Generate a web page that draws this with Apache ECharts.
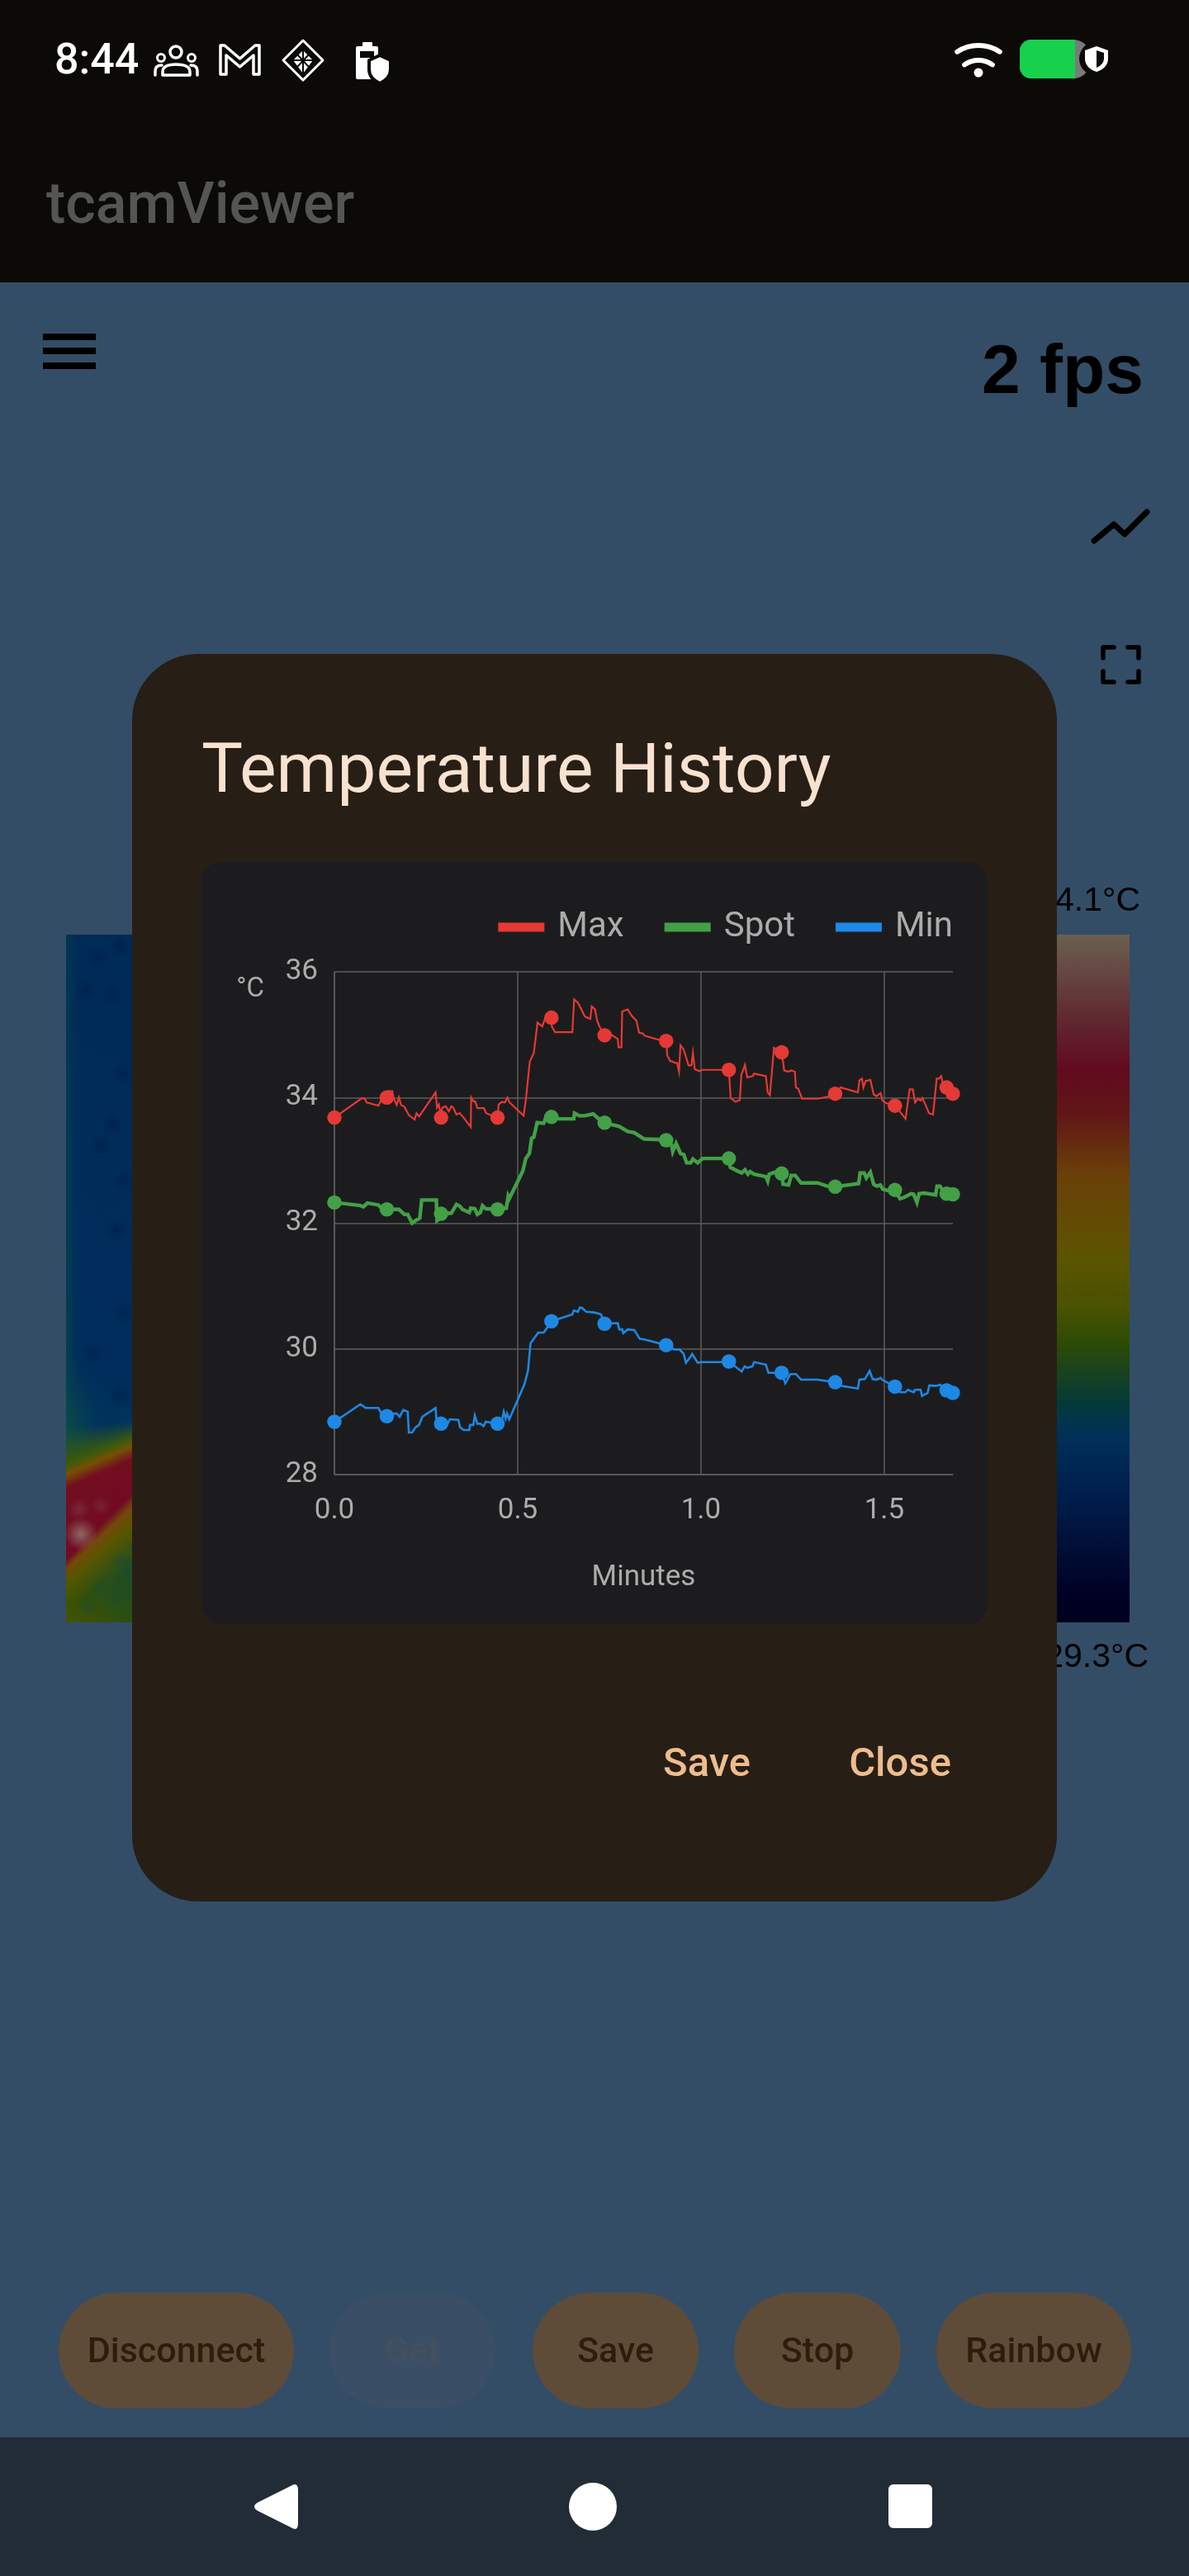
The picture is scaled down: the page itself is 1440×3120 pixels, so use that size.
<!DOCTYPE html>
<html><head><meta charset="utf-8">
<style>html,body{margin:0;padding:0;background:#334d66}#c{width:1440px;height:3120px}</style>
<script src="https://cdn.jsdelivr.net/npm/echarts@6/dist/echarts.min.js"></script>
</head><body><div id="c"></div>
<script>
// ---------- data ----------
const seriesNames = ['Max','Spot','Min'];
const yTicks = {min:28,max:36,step:2};
const xTicks = {min:0,max:1.687,step:0.5};

const maxTime = [0,.075,.083,.088,.120,.130,.143,.146,.158,.161,.170,.176,.182,.191,.203,.219,.224,.231,.276,.280,.285,.289,.295,.304,.312,.319,.324,.333,.342,.351,.372,.373,.379,.384,.390,.408,.414,.426,.445,.448,.457,.465,.472,.478,.516,.522,.533,.544,.554,.567,.576,.592,.593,.602,.649,.654,.664,.673,.683,.698,.702,.711,.717,.723,.737,.755,.773,.775,.783,.785,.800,.811,.824,.831,.841,.847,.890,.905,.908,.916,.923,.929,.935,.940,.944,.953,.966,.974,.978,.983,.995,1.004,1.055,1.076,1.081,1.094,1.106,1.110,1.120,1.126,1.141,1.145,1.177,1.182,1.188,1.199,1.220,1.227,1.239,1.246,1.256,1.259,1.265,1.276,1.318,1.344,1.366,1.381,1.428,1.432,1.439,1.443,1.449,1.462,1.471,1.479,1.490,1.495,1.505,1.530,1.558,1.569,1.578,1.584,1.592,1.599,1.604,1.614,1.622,1.633,1.643,1.649,1.655,1.659,1.670,1.687];
const maxTemp = [33.68,33.99,33.98,33.92,33.87,33.99,34.00,34.10,34.10,34.00,33.88,34.00,33.88,33.85,33.72,33.65,33.75,33.70,34.08,33.84,33.89,33.75,33.84,33.86,33.78,33.86,33.84,33.73,33.75,33.69,33.53,34.00,33.94,33.94,33.83,33.83,33.75,33.72,33.68,33.89,33.93,33.92,34.00,33.92,33.71,33.95,34.57,34.71,35.19,35.13,35.28,35.27,35.13,35.04,35.04,35.56,35.51,35.41,35.29,35.25,35.45,35.40,35.22,35.13,34.99,35.00,34.93,34.80,34.80,35.37,35.40,35.30,35.22,35.03,35.02,34.98,34.91,34.90,34.67,34.58,34.57,34.55,34.55,34.41,34.83,34.76,34.51,34.51,34.71,34.45,34.42,34.44,34.44,34.44,33.99,33.93,33.96,34.36,34.52,34.32,34.34,34.38,34.34,34.08,34.04,34.79,34.72,34.43,34.41,34.43,34.41,34.16,34.14,33.98,33.98,34.01,34.06,34.16,34.08,34.27,34.30,34.16,34.26,34.28,34.05,34.02,34.07,33.95,33.91,33.87,33.66,34.13,34.13,33.92,33.98,33.95,33.99,33.86,33.75,33.73,34.30,34.30,34.34,34.24,34.19,34.06];

const spotTime = [0,.071,.079,.090,.120,.130,.143,.176,.191,.200,.212,.221,.233,.238,.278,.280,.285,.291,.319,.333,.342,.349,.368,.372,.383,.390,.398,.404,.413,.445,.469,.474,.477,.514,.522,.532,.538,.544,.553,.571,.578,.592,.612,.653,.655,.668,.683,.706,.721,.737,.755,.777,.800,.818,.845,.890,.905,.920,.923,.932,.944,.953,.961,.972,.978,.991,1.004,1.055,1.076,1.080,1.096,1.111,1.120,1.128,1.134,1.145,1.177,1.182,1.186,1.201,1.220,1.224,1.239,1.246,1.257,1.273,1.318,1.344,1.366,1.430,1.434,1.445,1.451,1.462,1.471,1.479,1.489,1.496,1.509,1.529,1.543,1.554,1.573,1.580,1.589,1.595,1.609,1.612,1.640,1.644,1.652,1.659,1.670,1.687];
const spotTemp = [32.33,32.28,32.26,32.32,32.29,32.23,32.22,32.22,32.14,32.14,32.00,32.04,32.08,32.37,32.37,32.04,32.06,32.15,32.16,32.30,32.27,32.22,32.17,32.24,32.23,32.14,32.17,32.28,32.23,32.22,32.24,32.43,32.39,32.83,33.03,33.11,33.35,33.37,33.60,33.59,33.71,33.69,33.66,33.66,33.75,33.71,33.71,33.74,33.66,33.60,33.57,33.54,33.46,33.44,33.34,33.33,33.32,33.24,33.14,33.27,33.11,33.09,32.96,32.96,33.02,32.96,33.03,33.03,33.03,32.89,32.84,32.80,32.85,32.78,32.82,32.78,32.74,32.67,32.78,32.81,32.79,32.62,32.61,32.76,32.76,32.64,32.64,32.59,32.58,32.63,32.80,32.80,32.72,32.81,32.62,32.59,32.61,32.54,32.52,32.52,32.39,32.41,32.47,32.46,32.33,32.47,32.48,32.46,32.45,32.59,32.59,32.52,32.47,32.46];

const minTime = [0,.071,.085,.120,.130,.143,.155,.170,.178,.188,.200,.203,.212,.221,.231,.240,.276,.279,.291,.308,.315,.338,.343,.353,.368,.370,.379,.383,.390,.398,.407,.413,.424,.445,.458,.462,.467,.471,.477,.518,.528,.535,.544,.556,.571,.582,.592,.649,.653,.664,.670,.676,.687,.709,.727,.737,.773,.777,.785,.788,.800,.818,.833,.845,.905,.927,.942,.953,.959,.968,.976,.991,1.002,1.055,1.076,1.111,1.119,1.126,1.140,1.145,1.177,1.184,1.220,1.230,1.244,1.259,1.273,1.318,1.340,1.366,1.385,1.428,1.432,1.447,1.460,1.468,1.479,1.490,1.494,1.529,1.543,1.558,1.564,1.580,1.584,1.599,1.603,1.618,1.623,1.640,1.652,1.670,1.687];
const minTemp = [28.84,29.12,29.06,29.06,28.95,28.93,28.97,28.97,28.92,29.03,29.00,28.67,28.67,28.75,28.79,28.92,29.06,28.82,28.81,28.80,28.88,28.87,28.75,28.71,28.71,28.79,28.79,28.94,28.81,28.81,28.77,28.84,28.83,28.81,28.89,29.00,28.89,28.97,28.88,29.43,29.65,30.09,30.16,30.26,30.26,30.35,30.44,30.55,30.61,30.59,30.66,30.65,30.59,30.58,30.55,30.40,30.41,30.31,30.31,30.25,30.31,30.30,30.16,30.15,30.06,29.99,29.99,29.92,29.78,29.85,29.92,29.78,29.79,29.79,29.80,29.64,29.72,29.70,29.72,29.79,29.75,29.62,29.62,29.45,29.60,29.60,29.51,29.51,29.49,29.47,29.41,29.37,29.51,29.52,29.65,29.52,29.51,29.54,29.51,29.40,29.31,29.31,29.35,29.31,29.35,29.35,29.25,29.30,29.42,29.41,29.43,29.34,29.30];

const markerTime = [0,.143,.291,.445,.592,.737,.905,1.076,1.220,1.366,1.529,1.670,1.687];
const maxMarkers = [33.68,34.00,33.68,33.68,35.27,34.99,34.90,34.44,34.72,34.06,33.87,34.16,34.06];
const spotMarkers = [32.33,32.22,32.15,32.22,33.69,33.60,33.32,33.03,32.79,32.58,32.53,32.47,32.46];
const minMarkers = [28.84,28.93,28.81,28.81,30.44,30.40,30.06,29.80,29.62,29.47,29.40,29.34,29.30];

const zip = (a,b)=>a.map((v,i)=>[v,b[i]]);

// ---------- drawing helpers for the surrounding screen ----------
const els = []; let zc = -2000, pc = 0;
const add = e => { e.z = zc++; e.silent = true; els.push(e); };
const R = (x,y,w,h,fill,r=0)=>add({type:'rect',shape:{x,y,width:w,height:h,r},style:{fill}});
const C = (cx,cy,r,fill,stroke,lineWidth=0)=>add({type:'circle',shape:{cx,cy,r},style:{fill:fill||'none',stroke:stroke||'none',lineWidth}});
const P = (pathData,fill,stroke,lineWidth=0)=>{
  const name='uiPath'+(pc++);
  echarts.graphic.registerShape(name,echarts.graphic.extendPath(pathData,{}));
  add({type:name,shape:{},style:{fill:fill||'none',stroke:stroke||'none',lineWidth,lineJoin:'round',lineCap:'round'}});
};
const T = (text,x,y,size,fill,o={})=>add({type:'text',style:Object.assign({text,x,y,fontSize:size,fill,fontFamily:'Roboto',fontWeight:400,align:'left',verticalAlign:'middle'},o)});
const V = stops=>({type:'linear',x:0,y:0,x2:0,y2:1,colorStops:stops.map(s=>({offset:s[0],color:s[1]}))});

// bars
R(0,0,1440,342,'#0b0a06');
R(0,2952,1440,168,'#222c36');

// status bar
T('8:44',66,76,52,'#ffffff',{fontWeight:500});
C(213,63,7,null,'#fff',3.5); C(195,70,4.5,null,'#fff',3); C(232,70,4.5,null,'#fff',3);
P('M188 91 V86 Q188 79 196 79 M239 91 V86 Q239 79 231 79 M197 91 V87 Q197 78 213 78 Q230 78 230 87 V91 Z',null,'#fff',3.5);
P('M267 55 H272 L290.5 71 L309 55 H314 V90 H307 V67 L290.5 81 L274 67 V90 H267 Z',null,'#fff',3.5);
P('M367 49 L391 73 L367 97 L343 73 Z',null,'#fff',3);
P('M367 61 L379 73 L367 89 L355 73 Z','#fff',null);
P('M355 73 H379 M367 61 V89 M361 67 L373 80 M373 67 L361 80','none','#0b0a06',2);
R(439,51,12,6,'#fff',1); R(431,56,27,40,'#fff',2); R(436,62,17,8,'#0b0a06');
P('M460 67 L473 73 V84 Q473 95 460 101 Q447 95 447 84 V73 Z','#fff','#0b0a06',4);
add({type:'arc',shape:{cx:1185,cy:102,r:47,startAngle:-Math.PI/2-0.58,endAngle:-Math.PI/2+0.58},style:{stroke:'#fff',lineWidth:6,fill:'none',lineCap:'round'}});
add({type:'arc',shape:{cx:1185,cy:102,r:29,startAngle:-Math.PI/2-0.62,endAngle:-Math.PI/2+0.62},style:{stroke:'#fff',lineWidth:6,fill:'none',lineCap:'round'}});
C(1185,88,5.5,'#fff');
R(1235,48,85,47,'#7a7a7a',[14,20,20,14]);
R(1235,48,67,47,'#17d04b',[14,0,0,14]);
C(1328,71,21,'#0b0a06');
P('M1328 56 L1342 61 V71 Q1342 82 1328 87 Q1314 82 1314 71 V61 Z','#fff');
P('M1328 61 L1337 64 V71 Q1337 78 1328 82 Z','#0b0a06');

// app bar
T('tcamViewer',56,252,70,'#555555',{fontWeight:500});

// screen content
R(52,404,64,8,'#000'); R(52,421,64,8,'#000'); R(52,439,64,8,'#000');
T('2 fps',1385,453,84,'#000',{fontFamily:'Liberation Sans',fontWeight:700,align:'right'});
P('M1325 655 L1349 635 L1362 647 L1389 620',null,'#000',7);
[[1333,781,1,1],[1382,781,-1,1],[1333,829,1,-1],[1382,829,-1,-1]].forEach(c=>{
  P(`M${c[0]+c[2]*16} ${c[1]+c[3]*3} H${c[0]+c[2]*3} V${c[1]+c[3]*16}`,null,'#000',5.5);
});

// thermal image strip
const mix=(a,b,f)=>a+(b-a)*f;
const frac=y=>Math.min(1,Math.max(0,(y-1132)/833));
const lerpCol=(a,b,f)=>{
  const pa=[1,3,5].map(k=>parseInt(a.substr(k,2),16)), pb=[1,3,5].map(k=>parseInt(b.substr(k,2),16));
  return 'rgb('+pa.map((v,k)=>Math.round(mix(v,pb[k],f))).join(',')+')';
};
const COLS=40;
for(let i=0;i<COLS;i++){
  const x=80+i*2, f=i/(COLS-1), e=Math.min(1,f*6), g=Math.min(1,f*2);
  const s=[
    [frac(1132),lerpCol('#003650','#002a58',e)],
    [frac(mix(1640,1700,f)),lerpCol('#003e50','#002e5c',e)],
    [frac(mix(1730,1722,f)),lerpCol('#0a4a46','#00345c',g)],
    [frac(mix(1772,1742,f)),'#3a5a0c'],
    [frac(mix(1786,1752,f)),'#745004'],
    [frac(mix(1802,1768,f)),'#720e20'],
    [frac(mix(1888,1810,f)),'#720a24'],
    [frac(mix(1900,1826,f)),'#74480a'],
    [frac(mix(1916,1850,f)),'#565600'],
    [frac(mix(1945,1900,f)),lerpCol('#3c5200','#1c4c28',f)],
    [1,lerpCol('#465200','#285010',f)]
  ];
  R(x,1132,2.5,833,V(s));
}
const blob=(cx,cy,r,col,col0)=>add({type:'circle',shape:{cx,cy,r},style:{fill:{type:'radial',x:.5,y:.5,r:.5,colorStops:[{offset:0,color:col},{offset:1,color:col0}]}}});
blob(98,1858,20,'rgba(150,135,120,.75)','rgba(150,135,120,0)');
blob(96,1828,14,'rgba(130,90,90,.35)','rgba(130,90,90,0)');
blob(122,1824,12,'rgba(130,80,85,.3)','rgba(130,80,85,0)');
[[118,1160],[145,1146],[104,1200],[136,1205],[150,1300],[136,1360],[122,1388],[150,1430],[140,1490],[150,1590],[112,1640],[145,1690],[120,1925],[140,1935],[105,1945],[146,1890]]
 .forEach((p,i)=>blob(p[0],p[1],14,i>11?'rgba(0,70,80,.25)':'rgba(0,15,50,.3)',i>11?'rgba(0,70,80,0)':'rgba(0,15,50,0)'));

// colour bar and its labels
R(1250,1132,118,833,V([[0,'#6b5f50'],[.12,'#5f2a30'],[.196,'#620a20'],[.257,'#601518'],[.35,'#6a4008'],[.47,'#5c5400'],[.54,'#4a5200'],[.6,'#2a4a08'],[.68,'#043a38'],[.73,'#00305a'],[.81,'#001f4e'],[.885,'#001038'],[.96,'#000025'],[1,'#00001e']]));
T('34.1°C',1381,1092,41,'#000',{fontFamily:'Liberation Sans',align:'right'});
T('29.3°C',1391,2008,41,'#000',{fontFamily:'Liberation Sans',align:'right'});

// bottom buttons
const btn=(x0,x1,label,bg,fg)=>{R(x0,2777,x1-x0,140,bg,70);T(label,(x0+x1)/2,2850,43,fg,{align:'center',fontWeight:500});};
btn(71,356,'Disconnect','#5e4c38','#2d1e0c');
btn(399,600,'Get','#3a4f66','#44505c');
btn(645,846,'Save','#5e4c38','#2d1e0c');
btn(889,1091,'Stop','#5e4c38','#2d1e0c');
btn(1134,1370,'Rainbow','#5e4c38','#2d1e0c');

// nav bar
P('M352 3011 Q361 3005 361 3016 V3056 Q361 3067 352 3061 L312 3041 Q304 3036 312 3031 Z','#fff');
C(718,3036,29,'#fff');
R(1076,3009,53,53,'#fff',6);

// dialog
R(160,792,1120,1511,'#271e16',80);
T('Temperature History',244,938,84,'#f8e2cf');
T('Save',856,2139,49,'#eebd8d',{align:'center',fontWeight:500});
T('Close',1090,2139,49,'#eebd8d',{align:'center',fontWeight:500});
R(244,1044,952,923,'#1c1c1e',24);

// ---------- chart ----------
const axisCol='#5c5c5e', textCol='#acacac';
const colors={Max:'#e53935',Spot:'#43a047',Min:'#1e88e5'};
const widths={Max:2.2,Spot:4.4,Min:2.6};
const lines=[zip(maxTime,maxTemp),zip(spotTime,spotTemp),zip(minTime,minTemp)];
const marks=[zip(markerTime,maxMarkers),zip(markerTime,spotMarkers),zip(markerTime,minMarkers)];
const series=[];
seriesNames.forEach((n,i)=>{
  series.push({name:n,type:'line',data:lines[i],symbol:'none',smooth:false,clip:false,lineStyle:{color:colors[n],width:widths[n],join:'miter'},itemStyle:{color:colors[n]},z:3+i});
});
seriesNames.forEach((n,i)=>{
  series.push({name:n+' markers',type:'scatter',data:marks[i],symbol:'circle',symbolSize:17.5,clip:false,itemStyle:{color:colors[n],opacity:1},z:3+i});
});

const chart=echarts.init(document.getElementById('c'),null,{renderer:'canvas',width:1440,height:3120});
chart.setOption({
  animation:false,
  backgroundColor:'#334d66',
  textStyle:{fontFamily:'Roboto'},
  graphic:{elements:els},
  grid:{left:405,top:1177,width:749,height:609,containLabel:false},
  legend:{data:seriesNames,right:286,top:1102,padding:0,icon:'rect',itemWidth:56,itemHeight:11,itemGap:49,
    textStyle:{color:textCol,fontSize:42,fontFamily:'Roboto',padding:[0,0,0,11]},selectedMode:false},
  tooltip:{show:false},
  xAxis:{type:'value',min:xTicks.min,max:xTicks.max,interval:xTicks.step,
    name:'Minutes',nameLocation:'middle',nameGap:108,nameTextStyle:{color:textCol,fontSize:35,fontFamily:'Roboto'},
    axisLine:{show:true,onZero:false,lineStyle:{color:axisCol,width:1.5}},axisTick:{show:false},
    axisLabel:{color:textCol,fontSize:35,margin:27,showMaxLabel:false,formatter:v=>v.toFixed(1)},
    splitLine:{show:true,showMaxLine:false,lineStyle:{color:axisCol,width:1.5}}},
  yAxis:{type:'value',min:yTicks.min,max:yTicks.max,interval:yTicks.step,
    name:'°C',nameLocation:'end',nameRotate:0,nameGap:-22,
    nameTextStyle:{color:textCol,fontSize:33,fontFamily:'Roboto',align:'right',verticalAlign:'middle',padding:[0,85,0,0]},
    axisLine:{show:true,onZero:false,lineStyle:{color:axisCol,width:1.5}},axisTick:{show:false},
    axisLabel:{color:textCol,fontSize:35,margin:20,padding:[6,0,0,0]},
    splitLine:{show:true,lineStyle:{color:axisCol,width:1.5}}},
  series
});
</script></body></html>
